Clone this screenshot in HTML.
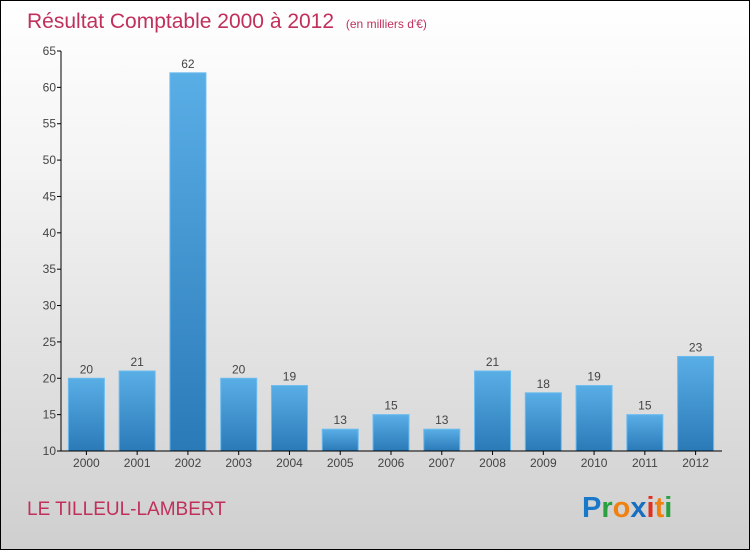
<!DOCTYPE html>
<html><head><meta charset="utf-8"><style>
body{margin:0}
#c{position:relative;width:748px;height:548px;border:1px solid #000;background:linear-gradient(#ffffff,#f4f4f4 30%,#cfcfcf);font-family:"Liberation Sans",sans-serif;overflow:hidden}
svg{position:absolute;left:0;top:0}
</style></head><body>
<div id="c">
<svg id="s" width="748" height="548">
<defs><linearGradient id="g" x1="0" y1="0" x2="0" y2="1"><stop offset="0" stop-color="#5aaee6"/><stop offset="1" stop-color="#2a7ab8"/></linearGradient></defs>
<text x="26" y="27" font-size="21" fill="#c0305a">Résultat Comptable 2000 à 2012 <tspan font-size="12" dx="6">(en milliers d'€)</tspan></text>
<text x="26" y="514" font-size="19" fill="#c0305a">LE TILLEUL-LAMBERT</text>
<g font-size="29" font-weight="bold">
<text x="581" y="516"><tspan fill="#1a78c8">P</tspan><tspan fill="#2aa040">r</tspan><tspan fill="#f08010">o</tspan><tspan fill="#1a6ec0">x</tspan><tspan fill="#e03020">i</tspan><tspan fill="#f08010">t</tspan><tspan fill="#2aa040">i</tspan></text></g>
<g id="p"></g>
</svg></div>
<script>
const years=["2000","2001","2002","2003","2004","2005","2006","2007","2008","2009","2010","2011","2012"];
const values=[20,21,62,20,19,13,15,13,21,18,19,15,23];
const ticks=[10,15,20,25,30,35,40,45,50,55,60,65];
const x0=60,x1=720,yTop=50,yBot=450,vMin=10,vMax=65;
const band=(x1-x0)/years.length;
const y=v=>yBot-(v-vMin)/(vMax-vMin)*(yBot-yTop);
const ns="http://www.w3.org/2000/svg",p=document.getElementById('p');
function mk(t,a,txt){const e=document.createElementNS(ns,t);for(const k in a)e.setAttribute(k,a[k]);if(txt!=null)e.textContent=txt;p.appendChild(e);return e;}
ticks.forEach(t=>{
 const l=mk('line',{x1:x0-4,x2:x0,y1:y(t),y2:y(t),stroke:'#000'});
 
 
 const tx=mk('text',{x:x0-5,y:y(t)+4,'text-anchor':'end','font-size':12,fill:'#444'},t);
 
 
});
years.forEach((yr,i)=>{
 const cx=x0+band*(i+0.5),v=values[i];
 const r=mk('rect',{x:cx-18,y:y(v),width:36,height:yBot-y(v),fill:'url(#g)',stroke:'#6bbcf0','stroke-width':1});
 
 
 const vl=mk('text',{x:cx,y:y(v)-5,'text-anchor':'middle','font-size':12,fill:'#444'},v);
 
 
 const tk=mk('line',{x1:cx,x2:cx,y1:yBot,y2:yBot+4,stroke:'#000'});
 
 
 const xl=mk('text',{x:cx,y:yBot+16,'text-anchor':'middle','font-size':12,fill:'#444'},yr);
 
 
});
const ya=mk('line',{x1:x0,x2:x0,y1:yTop,y2:yBot,stroke:'#000'});


const xa=mk('line',{x1:x0,x2:x1+1,y1:yBot,y2:yBot,stroke:'#000'});


</script>
</body></html>
